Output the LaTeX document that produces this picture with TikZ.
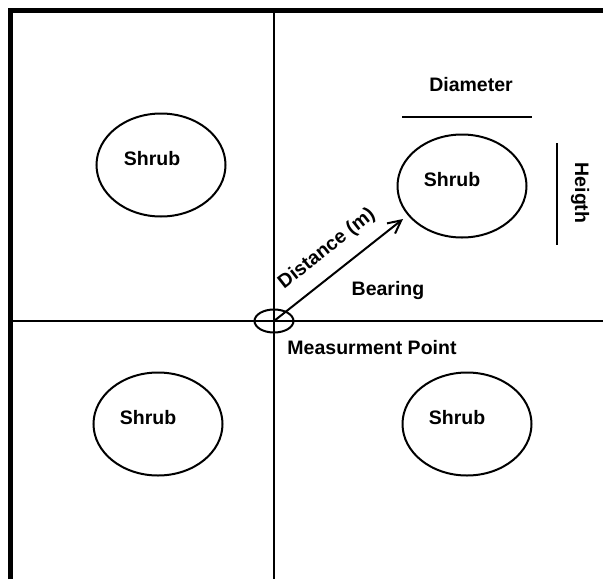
\documentclass[tikz,border=0pt]{standalone}
\usepackage{fontspec}
\setmainfont{Liberation Sans}
\usetikzlibrary{arrows.meta}
\usetikzlibrary{shapes.geometric}

\begin{document}
\begin{tikzpicture}[x=1pt,y=-1pt,
    font=\fontsize{19.5}{22}\selectfont\bfseries,
    shrub/.style={draw,ellipse,line width=2pt,minimum width=129pt,minimum height=103pt,inner sep=0pt}]
    \useasboundingbox (0,0) rectangle (603,579);
    \draw[line width=5.5pt,line join=miter] (10.5,579) -- (10.5,10.5) -- (603,10.5);
    \coordinate (N) at (274,13);
    \coordinate (S) at (274,579);
    \coordinate (W) at (13,321);
    \coordinate (E) at (603,321);
    \draw[line width=2.2pt] (N) -- (S);
    \draw[line width=2.2pt] (W) -- (E);
    % shrubs
    \node[shrub] (nw) at (161,165) {};
    \node[shrub] (ne) at (462,186) {};
    \node[shrub] (sw) at (158,424) {};
    \node[shrub] (se) at (467,424) {};
    \node (nwtext) at (152,159) {Shrub};
    \node (netext) at (452,180) {Shrub};
    \node (swtext) at (148,418) {Shrub};
    \node (setext) at (457,418) {Shrub};
    % measurement point
    \node[draw,ellipse,line width=2pt,minimum width=39pt,minimum height=23pt,inner sep=0pt] (mp) at (274,321) {};
    \node (mptext) at (372,348) {Measurment Point};
    \coordinate (tip) at (403,219);
    \draw[line width=2pt,-{Straight Barb[length=13pt,width=13pt]}] (mp.center) -- (tip);
    \node[rotate=38.3] (dist) at (327,249) {Distance (m)};
    \node (bearing) at (388,290) {Bearing};
    % diameter and height
    \coordinate (d1) at (402,117);
    \coordinate (d2) at (532,117);
    \draw[line width=2pt] (d1) -- (d2);
    \node (diam) at (471,85) {Diameter};
    \coordinate (h1) at (557,143);
    \coordinate (h2) at (557,245);
    \draw[line width=2.2pt] (h1) -- (h2);
    \node[rotate=-90] (height) at (580,193) {Heigth};
  \end{tikzpicture}
\end{document}
